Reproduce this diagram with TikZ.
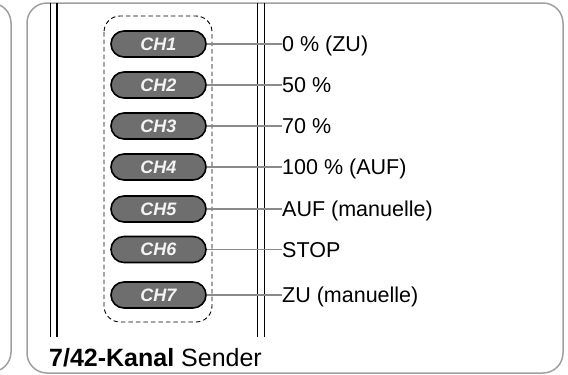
\documentclass[tikz,border=0pt]{standalone}
\usepackage{fontspec}
\setmainfont{Liberation Sans}
\usetikzlibrary{shapes.misc}
\definecolor{boxgray}{HTML}{A0A0A0}
\definecolor{pillfill}{HTML}{6E6E6E}
\definecolor{pilltext}{HTML}{F4F4F4}
\definecolor{linegray}{HTML}{8A8A8A}
\tikzset{
  frame/.style={draw=boxgray, line width=1.5pt, rounded corners=20pt},
  rail/.style={draw=black, line width=1.5pt},
  group/.style={draw=black, line width=0.9pt, dash pattern=on 4.5pt off 3pt, rounded corners=16pt},
  pill/.style={rounded rectangle, draw=black, line width=1.6pt, fill=pillfill,
    minimum width=95pt, minimum height=26pt, inner sep=0pt,
    text=pilltext, font=\fontsize{18}{20}\selectfont\bfseries\itshape},
  lab/.style={anchor=west, inner xsep=0pt, inner ysep=0pt, text height=15pt, text depth=0pt,
    font=\fontsize{21.5}{25}\selectfont},
  conn/.style={draw=linegray, line width=1.1pt}
}
\begin{document}
\begin{tikzpicture}[x=1pt,y=-1pt]
\useasboundingbox (0,0) rectangle (568,375);
\clip (0,0) rectangle (568,375);
% left partial frame
\draw[frame] (-40,3) -- (11,3) -- (11,372) -- (-40,372);
% main frame
\draw[frame] (27,3) rectangle (563,373);
% rails
\draw[rail] (50.5,3) -- (50.5,337);
\draw[rail] (57,3) -- (57,337);
\draw[rail] (257.5,3) -- (257.5,337);
\draw[rail] (264.5,3) -- (264.5,337);
% dashed group
\draw[group] (104,16) rectangle (212,322);
% pills and labels
\foreach \i/\y/\t in {1/44/{0 \% (ZU)},2/85/{50 \%},3/126/{70 \%},4/167/{100 \% (AUF)},5/209/{AUF (manuelle)},6/249.5/{STOP},7/295/{ZU (manuelle)}}{
  \node[pill] (p\i) at (158.5,\y) {CH\i};
  \node[lab] (l\i) at (282,\y) {\t};
  \draw[conn] (p\i.east) -- (l\i.west);
}
\node[anchor=base west, inner sep=0pt, font=\fontsize{25}{30}\selectfont] (title) at (49,366) {\textbf{7/42-Kanal} Sender};
\end{tikzpicture}
\end{document}
